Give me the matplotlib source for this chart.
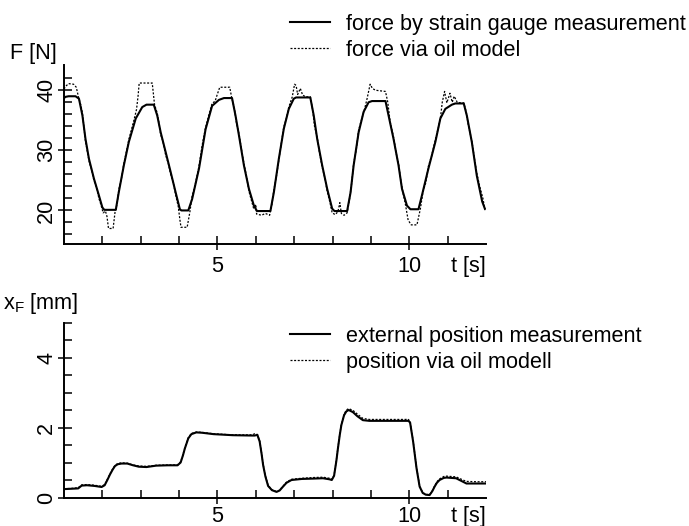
import matplotlib
matplotlib.use("Agg")
import matplotlib.pyplot as plt
from matplotlib.lines import Line2D

plt.rcParams["font.family"] = ["Liberation Sans", "DejaVu Sans"]
plt.rcParams["font.size"] = 15.6
plt.rcParams["mathtext.fontset"] = "custom"
plt.rcParams["mathtext.rm"] = "Liberation Sans"

# ---- force: strain gauge measurement ----
force_meas_t = [1.00, 1.04, 1.12, 1.30, 1.39, 1.48, 1.56, 1.65, 1.78, 1.91, 2.00, 2.05,
                2.35, 2.43, 2.56, 2.69, 2.87, 3.04, 3.15, 3.34, 3.43, 3.52, 3.65, 3.78,
                3.91, 4.02, 4.06, 4.24, 4.34, 4.52, 4.69, 4.86, 5.04, 5.17, 5.38, 5.47,
                5.56, 5.69, 5.82, 5.95, 6.03, 6.38, 6.47, 6.60, 6.73, 6.86, 6.99, 7.05,
                7.42, 7.51, 7.60, 7.73, 7.86, 7.99, 8.05, 8.38, 8.47, 8.55, 8.68, 8.81,
                8.94, 9.03, 9.38, 9.46, 9.59, 9.72, 9.81, 9.94, 10.03, 10.24, 10.33, 10.50,
                10.68, 10.81, 10.94, 11.11, 11.20, 11.42, 11.50, 11.63, 11.76, 11.90, 11.97]
force_meas = [38.7, 38.9, 39.0, 39.0, 38.6, 35.8, 31.9, 28.6, 25.3, 22.5, 20.5, 20.1,
              20.1, 23.1, 27.5, 31.4, 35.3, 37.2, 37.6, 37.6, 35.8, 33.0, 29.7, 26.4,
              23.0, 20.2, 20.0, 20.0, 21.9, 27.0, 33.5, 37.4, 38.4, 38.7, 38.7, 35.8,
              32.5, 27.5, 23.6, 20.8, 19.9, 19.9, 23.0, 28.6, 33.6, 36.9, 38.6, 38.8,
              38.8, 35.8, 31.9, 27.5, 23.6, 20.3, 19.9, 19.9, 23.0, 27.5, 33.0, 36.4,
              38.0, 38.2, 38.2, 35.8, 31.9, 27.5, 23.6, 20.8, 20.2, 20.2, 22.5, 27.0,
              31.4, 35.3, 36.9, 37.6, 37.8, 37.8, 35.8, 31.4, 25.8, 21.5, 20.3]

# ---- force: oil model ----
force_oil_t = [1.00, 1.05, 1.12, 1.25, 1.32, 1.38, 1.44, 1.48, 1.52, 1.56, 1.62, 1.66,
               1.72, 1.78, 1.85, 1.91, 1.97, 2.02, 2.08, 2.12, 2.16, 2.28, 2.33, 2.38,
               2.43, 2.50, 2.56, 2.62, 2.69, 2.76, 2.83, 2.89, 2.93, 2.96, 3.30, 3.36,
               3.43, 3.48, 3.52, 3.58, 3.65, 3.72, 3.78, 3.85, 3.91, 3.98, 4.02, 4.05,
               4.21, 4.28, 4.34, 4.42, 4.52, 4.60, 4.69, 4.78, 4.86, 4.94, 4.99, 5.06,
               5.32, 5.37, 5.44, 5.50, 5.56, 5.63, 5.69, 5.76, 5.82, 5.88, 5.94, 6.00,
               6.02, 6.15, 6.25, 6.36, 6.42, 6.47, 6.54, 6.60, 6.67, 6.73, 6.80, 6.86,
               6.95, 7.01, 7.05, 7.09, 7.16, 7.22, 7.30, 7.42, 7.48, 7.53, 7.60, 7.66,
               7.73, 7.80, 7.86, 7.93, 7.99, 8.07, 8.14, 8.19, 8.23, 8.30, 8.38, 8.44,
               8.50, 8.55, 8.62, 8.68, 8.76, 8.84, 8.90, 8.98, 9.04, 9.12, 9.38, 9.44,
               9.50, 9.59, 9.66, 9.72, 9.78, 9.84, 9.90, 9.97, 10.05, 10.20, 10.29, 10.36,
               10.43, 10.50, 10.58, 10.68, 10.76, 10.82, 10.86, 10.92, 10.98, 11.06, 11.12, 11.17,
               11.25, 11.34, 11.42, 11.48, 11.54, 11.63, 11.70, 11.76, 11.84, 11.92, 11.98]
force_oil = [40.2, 40.7, 41.1, 41.0, 40.5, 38.8, 37.5, 36.2, 33.8, 31.5, 29.4, 28.0,
             26.8, 25.0, 23.8, 22.0, 20.8, 19.6, 19.9, 19.0, 17.0, 17.0, 19.7, 21.0,
             23.5, 25.4, 27.8, 29.6, 31.8, 33.5, 35.2, 36.8, 39.0, 41.2, 41.2, 37.6,
             36.2, 34.4, 32.6, 31.5, 29.2, 27.8, 26.0, 24.6, 22.6, 20.6, 18.5, 17.2,
             17.2, 19.7, 22.4, 24.3, 27.4, 30.8, 33.8, 36.0, 37.8, 38.2, 39.2, 40.5,
             40.5, 38.8, 37.0, 34.4, 32.8, 30.0, 27.8, 25.6, 23.2, 21.8, 20.4, 21.0,
             19.4, 19.2, 19.5, 19.2, 21.0, 23.4, 25.8, 28.4, 31.4, 33.9, 35.4, 37.2,
             38.9, 41.0, 40.8, 39.3, 40.3, 39.2, 38.9, 38.9, 36.8, 34.0, 32.2, 29.6,
             27.2, 25.4, 23.2, 21.4, 19.6, 19.3, 19.8, 21.3, 19.5, 19.2, 19.6, 21.8,
             24.6, 27.8, 30.2, 33.4, 35.2, 37.0, 38.6, 41.0, 40.3, 40.0, 39.8, 38.0,
             34.8, 32.2, 29.5, 27.8, 25.0, 22.8, 21.0, 18.4, 17.6, 17.6, 20.3, 23.2,
             24.6, 27.4, 29.0, 31.8, 33.8, 35.8, 38.0, 39.8, 37.9, 39.5, 38.0, 39.0,
             38.0, 37.9, 37.9, 36.5, 34.2, 31.6, 28.6, 26.2, 23.9, 22.0, 19.8]

# ---- position (common time base) ----
pos_t = [1.00, 1.20, 1.37, 1.46, 1.60, 1.80, 1.98, 2.06, 2.13, 2.20, 2.27, 2.33,
         2.40, 2.50, 2.65, 2.80, 2.95, 3.15, 3.40, 3.70, 3.96, 4.04, 4.10, 4.15,
         4.24, 4.32, 4.45, 4.60, 4.90, 5.40, 5.90, 5.97, 6.04, 6.10, 6.15, 6.19,
         6.25, 6.32, 6.42, 6.54, 6.62, 6.70, 6.80, 6.93, 7.20, 7.50, 7.75, 7.92,
         7.98, 8.04, 8.10, 8.14, 8.19, 8.23, 8.30, 8.36, 8.42, 8.53, 8.65, 8.79,
         8.96, 9.50, 9.90, 9.97, 10.02, 10.10, 10.19, 10.27, 10.35, 10.43, 10.53, 10.60,
         10.66, 10.72, 10.79, 10.90, 10.97, 11.22, 11.40, 11.49, 11.75, 12.00]
pos_meas = [0.24, 0.25, 0.26, 0.34, 0.35, 0.33, 0.30, 0.35, 0.50, 0.66, 0.80, 0.90,
            0.95, 0.97, 0.97, 0.92, 0.88, 0.87, 0.91, 0.92, 0.92, 1.00, 1.20, 1.40,
            1.69, 1.81, 1.86, 1.85, 1.81, 1.78, 1.77, 1.77, 1.79, 1.60, 1.25, 0.93,
            0.60, 0.33, 0.21, 0.16, 0.20, 0.30, 0.42, 0.50, 0.53, 0.54, 0.55, 0.52,
            0.50, 0.62, 1.05, 1.40, 1.80, 2.07, 2.35, 2.46, 2.50, 2.44, 2.32, 2.21,
            2.19, 2.19, 2.19, 2.19, 2.15, 1.60, 0.83, 0.31, 0.13, 0.08, 0.07, 0.18,
            0.31, 0.42, 0.50, 0.56, 0.57, 0.55, 0.45, 0.40, 0.40, 0.40]
pos_oil = [0.25, 0.26, 0.28, 0.36, 0.37, 0.35, 0.32, 0.37, 0.52, 0.68, 0.82, 0.92,
           0.97, 0.99, 0.98, 0.93, 0.90, 0.89, 0.92, 0.93, 0.93, 1.02, 1.22, 1.42,
           1.71, 1.83, 1.87, 1.86, 1.82, 1.79, 1.79, 1.82, 1.80, 1.62, 1.27, 0.95,
           0.62, 0.35, 0.22, 0.17, 0.21, 0.31, 0.44, 0.52, 0.55, 0.57, 0.58, 0.55,
           0.52, 0.64, 1.07, 1.42, 1.82, 2.09, 2.38, 2.50, 2.54, 2.49, 2.38, 2.26,
           2.23, 2.23, 2.23, 2.24, 2.17, 1.62, 0.85, 0.33, 0.14, 0.09, 0.08, 0.19,
           0.33, 0.45, 0.53, 0.60, 0.61, 0.59, 0.50, 0.46, 0.45, 0.45]

x_major = [5, 10]
x_minor = [2, 3, 4, 5, 6, 7, 8, 9, 10, 11]

W, H = 689, 526
fig = plt.figure(figsize=(W / 100, H / 100), dpi=100)

solid_kw = dict(color="black", lw=1.5, solid_joinstyle="round")
dot_kw = dict(color="black", lw=0.9, linestyle=(0, (1.6, 1.3)))


def style_axes(ax, ymajor, yminor, ylim, xpad):
    for s in ("top", "right"):
        ax.spines[s].set_visible(False)
    for s in ("left", "bottom"):
        ax.spines[s].set_linewidth(1.4)
    ax.set_xlim(1, 12)
    ax.set_ylim(*ylim)
    ax.xaxis.remove_overlapping_locs = False
    ax.yaxis.remove_overlapping_locs = False
    ax.set_xticks(x_major)
    ax.set_xticks(x_minor, minor=True)
    ax.set_yticks(ymajor)
    ax.set_yticks(yminor, minor=True)
    ax.tick_params(which="minor", direction="in", length=5.8, width=1.1)
    ax.tick_params(which="major", direction="out", length=4.0, width=1.1)
    ax.tick_params(axis="x", which="major", pad=xpad)
    ax.tick_params(axis="y", which="major", pad=1.0, labelrotation=90)
    for lbl in ax.get_yticklabels():
        lbl.set_va("center")
    ax.annotate("t [s]", xy=(11.55, 0), xycoords=("data", "axes fraction"),
                xytext=(0, -(4.0 + xpad)), textcoords="offset points",
                ha="center", va="top")


def add_legend(ax, labels, top_px):
    handles = [Line2D([], [], **solid_kw), Line2D([], [], **dot_kw)]
    ax.legend(handles, labels, loc="upper left",
              bbox_to_anchor=(290 / W, 1 - top_px / H),
              bbox_transform=fig.transFigure, frameon=False, borderpad=0,
              borderaxespad=0, handlelength=1.85, handletextpad=0.75,
              labelspacing=0.21)


# ---- upper panel: force ----
ax1 = fig.add_axes([64 / W, 1 - 243.5 / H, 422 / W, 178.5 / H])
ax1.plot(force_meas_t, force_meas, **solid_kw)
ax1.plot(force_oil_t, force_oil, **dot_kw)
style_axes(ax1, [20, 30, 40], list(range(16, 44, 2)), (14.5, 44.2), 5.2)
fig.text(10 / W, 1 - 53 / H, "F [N]", ha="left", va="center")
add_legend(ax1, ["force by strain gauge measurement", "force via oil model"], 14)

# ---- lower panel: position ----
ax2 = fig.add_axes([64 / W, 1 - 497.5 / H, 422 / W, 175 / H])
ax2.plot(pos_t, pos_meas, **solid_kw)
ax2.plot(pos_t, pos_oil, **dot_kw)
style_axes(ax2, [0, 2, 4], [0.5, 1, 1.5, 2, 2.5, 3, 3.5, 4, 4.5, 5], (0, 5), 2.0)
fig.text(3 / W, 1 - 303 / H, r"x$_\mathregular{F}$ [mm]", ha="left", va="center")
add_legend(ax2, ["external position measurement", "position via oil modell"], 326)

fig.savefig("out.png", dpi=100)
